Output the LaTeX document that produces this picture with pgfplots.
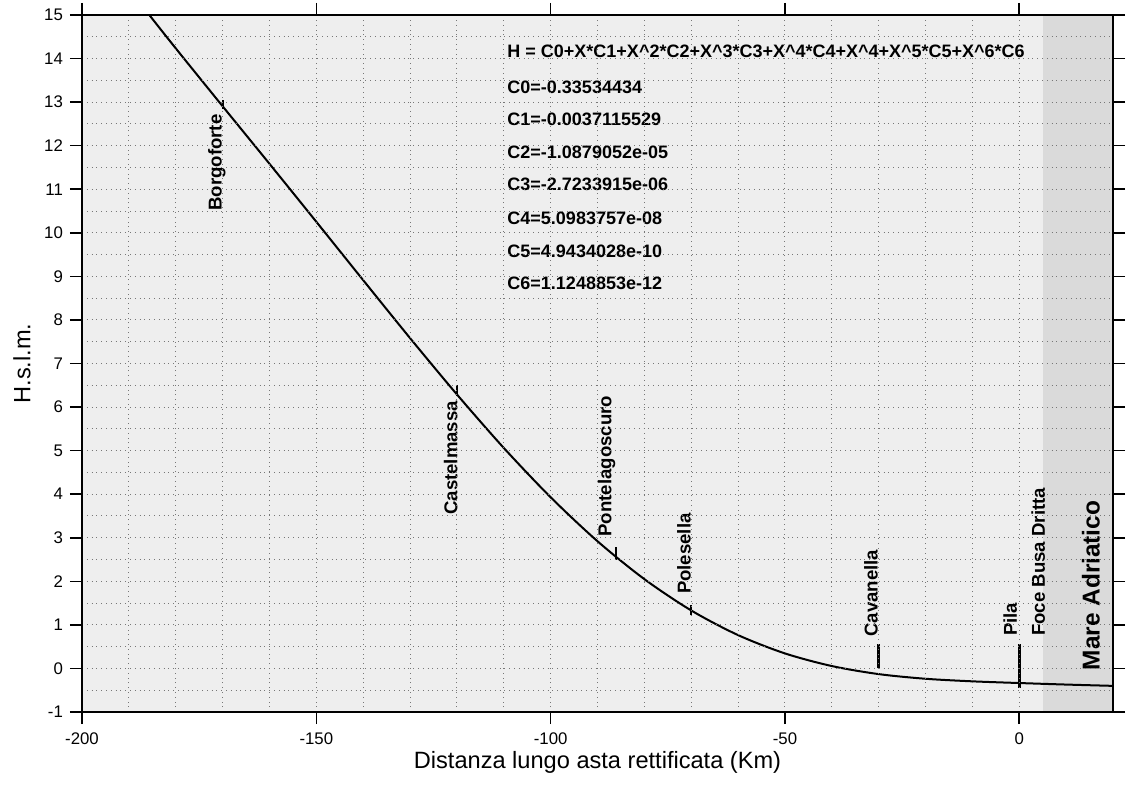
\documentclass[border=0pt]{standalone}
\usepackage{fontspec}
\setmainfont{Liberation Sans}
\usepackage{pgfplots}
\pgfplotsset{compat=1.18}
\definecolor{plotbg}{HTML}{EEEEEE}
\definecolor{seabg}{HTML}{DADADA}
\definecolor{gridc}{HTML}{777777}

\begin{document}
\begin{tikzpicture}
\begin{axis}[
  name=ax,
  scale only axis, width=515.5pt, height=348.5pt,
  xmin=-200, xmax=20, ymin=-1, ymax=15,
  xtick={-200,-150,-100,-50,0},
  xticklabels={-200,-150,-100,-50,0},
  minor x tick num=4,
  ytick={-1,0,...,15},
  minor y tick num=1,
  grid=both,
  major grid style={dotted, gridc, line width=0.5pt},
  minor grid style={dotted, gridc, line width=0.5pt},
  tick align=outside,
  major tick length=6pt,
  minor tick length=0pt,
  tick style={black, line width=0.8pt},
  axis line style={black, line width=0.8pt},
  axis background/.style={fill=plotbg},
  axis on top,
  tick label style={font=\fontsize{8.4}{10}\selectfont},
  xticklabel style={yshift=-1pt},
  /pgf/number format/assume math mode=true,
]
% sea band
\addplot [fill=seabg, draw=none] coordinates {(5,-1) (5,15) (20,15) (20,-1)} -- cycle;

% fitted profile
\addplot [black, line width=1pt, smooth] coordinates {
  (-186,15.05) (-180,14.235) (-170,12.906) (-160,11.585) (-150,10.253)
  (-140,8.913) (-130,7.583) (-120,6.290) (-110,5.062) (-100,3.930)
  (-90,2.920) (-80,2.050) (-70,1.331) (-60,0.765) (-50,0.345)
  (-40,0.055) (-30,-0.130) (-20,-0.237) (-10,-0.296) (0,-0.335)
  (10,-0.370) (20,-0.400)
};

% station markers
\addplot [black, line width=1pt] coordinates {(-170,12.85) (-170,13.05)};
\addplot [black, line width=1pt] coordinates {(-120,6.25) (-120,6.5)};
\addplot [black, line width=1pt] coordinates {(-86,2.5) (-86,2.78)};
\addplot [black, line width=1pt] coordinates {(-70,1.22) (-70,1.45)};
\addplot [black, line width=1.5pt] coordinates {(-30,0.0) (-30,0.55)};
\addplot [black, line width=1.5pt] coordinates {(0,-0.45) (0,0.57)};

\begin{scope}[every node/.style={rotate=90, anchor=south west, inner sep=0pt,
    font=\fontsize{9.3}{10}\selectfont\bfseries}]
\node at (axis cs:-169.3,10.50) {Borgoforte};
\node at (axis cs:-119.8,3.52) {Castelmassa};
\node at (axis cs:-86.1,3.02) {Pontelagoscuro};
\node at (axis cs:-70.0,1.70) {Polesella};
\node at (axis cs:-30.1,0.72) {Cavanella};
\node at (axis cs:-0.4,0.74) {Pila};
\node at (axis cs:5.6,0.74) {Foce Busa Dritta};
\node[font=\fontsize{12.2}{13}\selectfont\bfseries] at (axis cs:17.3,-0.05) {Mare Adriatico};
\end{scope}

\begin{scope}[every node/.style={anchor=base west, inner sep=0pt,
    font=\fontsize{9}{10}\selectfont\bfseries}]
\node at (axis cs:-109.3,14.03) {H = C0+X*C1+X\textasciicircum 2*C2+X\textasciicircum 3*C3+X\textasciicircum 4*C4+X\textasciicircum 4+X\textasciicircum 5*C5+X\textasciicircum 6*C6};
\node at (axis cs:-109.3,13.20) {C0=-0.33534434};
\node at (axis cs:-109.3,12.46) {C1=-0.0037115529};
\node at (axis cs:-109.3,11.70) {C2=-1.0879052e-05};
\node at (axis cs:-109.3,10.96) {C3=-2.7233915e-06};
\node at (axis cs:-109.3,10.20) {C4=5.0983757e-08};
\node at (axis cs:-109.3,9.44) {C5=4.9434028e-10};
\node at (axis cs:-109.3,8.70) {C6=1.1248853e-12};
\end{scope}
\end{axis}

\node[rotate=90, font=\fontsize{11.8}{13}\selectfont] at ([xshift=-30pt]ax.west) {H.s.l.m.};
\node[anchor=base, font=\fontsize{11.8}{13}\selectfont] at ([yshift=-28pt]ax.south) {Distanza lungo asta rettificata (Km)};

\pgfresetboundingbox
\path (ax.south west) ++(-41pt,-37.5pt) rectangle ++(564pt,393.5pt);
\end{tikzpicture}
\end{document}
